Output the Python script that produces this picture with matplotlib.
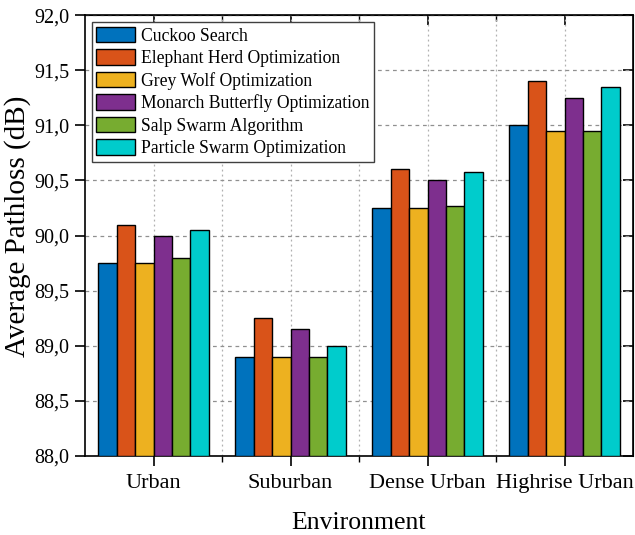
import matplotlib
matplotlib.use("Agg")
import matplotlib.pyplot as plt
import numpy as np
from matplotlib.ticker import FuncFormatter, MultipleLocator, FixedLocator

plt.rcParams['font.family'] = ['Liberation Serif', 'DejaVu Serif']

# Average pathloss per environment, one list per algorithm
environments = ['Urban', 'Suburban', 'Dense Urban', 'Highrise Urban']
algorithms = ['Cuckoo Search', 'Elephant Herd Optimization', 'Grey Wolf Optimization',
              'Monarch Butterfly Optimization', 'Salp Swarm Algorithm',
              'Particle Swarm Optimization']
cuckoo = [89.75, 88.90, 90.25, 91.00]
elephant = [90.10, 89.25, 90.60, 91.40]
grey_wolf = [89.75, 88.90, 90.25, 90.95]
monarch = [90.00, 89.15, 90.50, 91.25]
salp = [89.80, 88.90, 90.27, 90.95]
pso = [90.05, 89.00, 90.58, 91.35]
series = [cuckoo, elephant, grey_wolf, monarch, salp, pso]
colors = ['#0072BD', '#D95319', '#EDB120', '#7E2F8E', '#77AC30', '#00CCCC']

fig = plt.figure(figsize=(6.35, 5.35), dpi=100)
ax = fig.add_axes([0.1339, 0.1477, 0.863, 0.824])

x = np.arange(len(environments))
width = 0.134
base = 88.0
for i, (vals, col, name) in enumerate(zip(series, colors, algorithms)):
    offs = (i - 2.5) * width
    heights = np.array(vals) - base
    ax.bar(x + offs, heights, width, bottom=base, color=col, edgecolor='black',
           linewidth=1.0, label=name, zorder=3)

ax.set_xlim(-0.5, 3.5)
ax.set_ylim(88.0, 92.0)
ax.set_xticks(x)
ax.set_xticklabels(environments, fontsize=16)
ax.xaxis.set_minor_locator(FixedLocator([0.5, 1.5, 2.5]))
ax.yaxis.set_major_locator(MultipleLocator(0.5))
ax.yaxis.set_major_formatter(FuncFormatter(lambda v, p: f'{v:.1f}'.replace('.', ',')))
ax.tick_params(axis='y', labelsize=14.5, direction='out', length=7, width=1.2, pad=4)
ax.tick_params(axis='x', which='major', direction='out', length=7, width=1.2, pad=6)
ax.tick_params(axis='x', which='minor', direction='out', length=4, width=1.0)

# mirrored ticks on top and right, pointing inward
top = ax.secondary_xaxis('top')
top.set_xticks(x)
top.xaxis.set_minor_locator(FixedLocator([0.5, 1.5, 2.5]))
top.tick_params(which='major', direction='in', length=7, width=1.2, labeltop=False)
top.tick_params(which='minor', direction='in', length=4, width=1.0)
right = ax.secondary_yaxis('right')
right.yaxis.set_major_locator(MultipleLocator(0.5))
right.tick_params(direction='in', length=7, width=1.2, labelright=False)

for s in ax.spines.values():
    s.set_linewidth(1.2)

ax.grid(axis='y', which='major', linestyle=(0, (3, 3)), color='#909090', linewidth=0.9, zorder=0)
ax.grid(axis='x', which='both', linestyle=(0, (1.5, 2.5)), color='#b0b0b0', linewidth=0.9, zorder=0)
ax.set_axisbelow(True)

ax.set_xlabel('Environment', fontsize=18.5)
ax.xaxis.set_label_coords(0.5, -0.127)
ax.set_ylabel('Average Pathloss (dB)', fontsize=21)
ax.yaxis.set_label_coords(-0.098, 0.52)

leg = ax.legend(loc='upper left', fontsize=12.7, frameon=True, fancybox=False,
                edgecolor='#404040', framealpha=1.0, handlelength=2.2, handleheight=1.0,
                labelspacing=0.26, borderpad=0.25, handletextpad=0.35,
                borderaxespad=0.4)
leg.get_frame().set_linewidth(1.0)

fig.savefig('out.png', dpi=100)
